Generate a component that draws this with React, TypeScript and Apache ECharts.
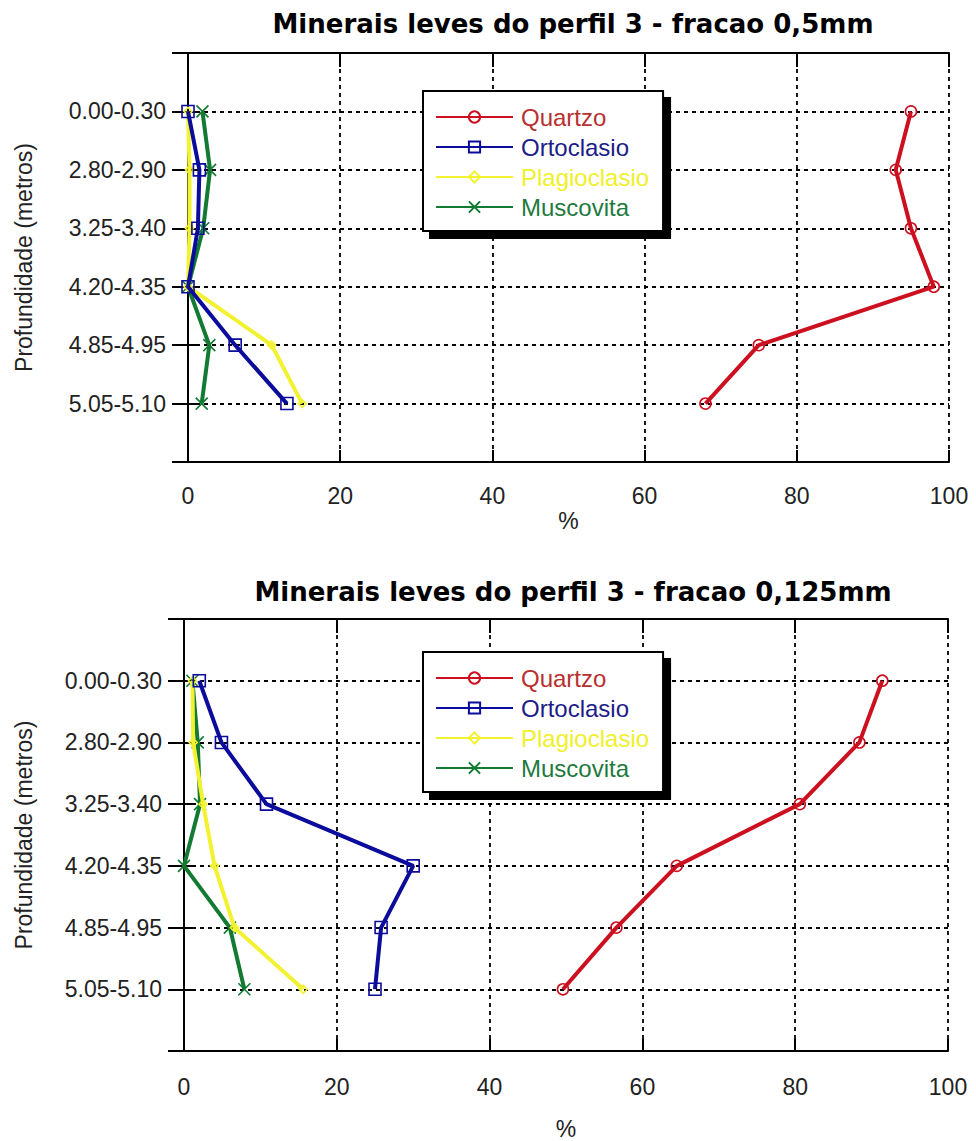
import React, { useEffect, useRef } from "react";
import * as echarts from "echarts";

const depths = ["0.00-0.30", "2.80-2.90", "3.25-3.40", "4.20-4.35", "4.85-4.95", "5.05-5.10"];
const xTicks = [0, 20, 40, 60, 80, 100];
const minerals = ["Quartzo", "Ortoclasio", "Plagioclasio", "Muscovita"];

// fracao 0,5mm
const quartzo05 = [95, 93, 95, 98, 75, 68];
const ortoclasio05 = [0, 1.5, 1.3, 0, 6.2, 13.0];
const plagioclasio05 = [0, 0.2, 0.2, 0, 11.0, 15.0];
const muscovita05 = [1.9, 2.9, 2.0, 0, 2.8, 1.8];

// fracao 0,125mm
const quartzo0125 = [91.4, 88.4, 80.6, 64.5, 56.6, 49.6];
const ortoclasio0125 = [2.0, 4.9, 10.8, 30.0, 25.8, 25.0];
const plagioclasio0125 = [1.1, 1.2, 2.5, 4.0, 6.6, 15.6];
const muscovita0125 = [1.1, 1.8, 2.1, 0, 6.0, 7.9];

const titles = ["Minerais leves do perfil 3 - fracao 0,5mm", "Minerais leves do perfil 3 - fracao 0,125mm"];

const lineColors = ["#cc1020", "#0c0c9c", "#f2f230", "#127a32"];
const textColors = ["#b83030", "#1c1c88", "#f0f028", "#1e7a3e"];
const symbols = ["circle", "rect", "diamond", "path://M0,0L10,10M10,0L0,10"];
const symbolSizes = [11, 12, 8, 12];

const FONT = "'Liberation Sans', Arial, sans-serif";

export default function App() {
  const ref = useRef<HTMLDivElement>(null);
  useEffect(() => {
    if (!ref.current) return;
    const chart = echarts.init(ref.current, null, { renderer: "svg" });
    const yCats = ["", ...depths, " "];
    const charts = [
      {
        values: [quartzo05, ortoclasio05, plagioclasio05, muscovita05],
        grid: { left: 188, right: 27, top: 53, height: 409 },
        titleTop: 6,
        legendTop: 91,
        labelMargin: 22,
        xNameGap: 47,
        yNameGap: 153,
      },
      {
        values: [quartzo0125, ortoclasio0125, plagioclasio0125, muscovita0125],
        grid: { left: 184, right: 28, top: 619, height: 433 },
        titleTop: 574,
        legendTop: 652,
        labelMargin: 24,
        xNameGap: 66,
        yNameGap: 149,
      },
    ];
    const axisLine = { show: true, lineStyle: { color: "#000", width: 2 } };
    const splitLine = { show: true, lineStyle: { color: "#000", type: [4, 4], width: 1.8 } };
    const xAxis: any[] = [];
    const yAxis: any[] = [];
    const series: any[] = [];
    const legend: any[] = [];
    const title: any[] = [];
    charts.forEach((c, k) => {
      title.push({
        text: titles[k],
        left: 568,
        textAlign: "center",
        top: c.titleTop,
        textStyle: { fontFamily: "'DejaVu Sans', sans-serif", fontWeight: "bold", fontSize: 26, color: "#000" },
      });
      xAxis.push({
        type: "value",
        gridIndex: k,
        position: "bottom",
        min: xTicks[0],
        max: xTicks[xTicks.length - 1],
        interval: xTicks[1] - xTicks[0],
        axisLine,
        axisTick: { show: true, inside: true, length: 12, lineStyle: { color: "#000", width: 2 } },
        axisLabel: { fontSize: 23, color: "#222", fontFamily: FONT, margin: c.labelMargin },
        splitLine,
        name: "%",
        nameLocation: "middle",
        nameGap: c.xNameGap,
        nameTextStyle: { fontSize: 23, color: "#222", fontFamily: FONT },
      });
      xAxis.push({
        type: "value",
        gridIndex: k,
        position: "top",
        min: xTicks[0],
        max: xTicks[xTicks.length - 1],
        interval: xTicks[1] - xTicks[0],
        axisLine,
        axisTick: { show: true, inside: true, length: 14, lineStyle: { color: "#000", width: 2 } },
        axisLabel: { show: false },
        splitLine: { show: false },
      });
      yAxis.push({
        type: "category",
        gridIndex: k,
        position: "left",
        data: yCats,
        inverse: true,
        boundaryGap: false,
        axisLine,
        axisTick: { show: true, inside: true, length: 12, interval: 0, lineStyle: { color: "#000", width: 2 } },
        axisLabel: { interval: 0, fontSize: 23, color: "#222", fontFamily: FONT, margin: 22 },
        splitLine: { ...splitLine, interval: 0 },
        name: "Profundidade (metros)",
        nameLocation: "middle",
        nameGap: c.yNameGap,
        nameTextStyle: { fontSize: 23, color: "#222", fontFamily: FONT },
      });
      yAxis.push({
        type: "category",
        gridIndex: k,
        position: "right",
        data: yCats,
        inverse: true,
        boundaryGap: false,
        axisLine,
        axisTick: { show: true, inside: true, length: 16, interval: 0, lineStyle: { color: "#000", width: 2 } },
        axisLabel: { show: false },
        splitLine: { show: false },
      });
      minerals.forEach((m, i) => {
        series.push({
          type: "line",
          name: m,
          xAxisIndex: 2 * k,
          yAxisIndex: 2 * k,
          data: c.values[i].map((v, j) => [v, depths[j]]),
          symbol: symbols[i],
          symbolSize: symbolSizes[i],
          lineStyle: { color: lineColors[i], width: 4 },
          itemStyle: { color: "rgba(0,0,0,0)", borderColor: lineColors[i], borderWidth: 1.6 },
          emphasis: { disabled: true },
          z: 3 + (minerals.length - i),
        });
      });
      legend.push({
        orient: "vertical",
        left: 423,
        top: c.legendTop,
        itemWidth: 77,
        itemHeight: 14,
        itemGap: 6,
        padding: [14, 14, 12, 12],
        backgroundColor: "#fff",
        borderColor: "#000",
        borderWidth: 2,
        shadowColor: "#000",
        shadowOffsetX: 7,
        shadowOffsetY: 7,
        shadowBlur: 0,
        selectedMode: false,
        textStyle: { fontSize: 24, fontFamily: FONT, lineHeight: 24, padding: [0, 0, 0, 3] },
        data: minerals.map((m, i) => ({ name: m, textStyle: { color: textColors[i] } })),
      });
    });
    chart.setOption({
      animation: false,
      backgroundColor: "#ffffff",
      title,
      grid: charts.map((c) => c.grid),
      xAxis,
      yAxis,
      legend,
      series,
    });
    return () => chart.dispose();
  }, []);
  return <div ref={ref} style={{ position: "absolute", left: 0, top: 0, width: 976, height: 1141 }} />;
}
